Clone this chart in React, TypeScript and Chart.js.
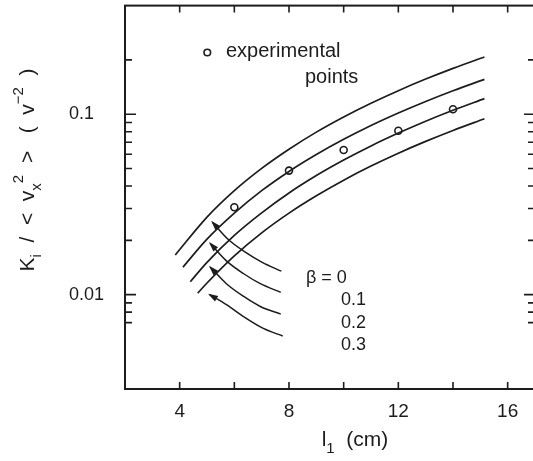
import React, { useEffect, useRef } from 'react';
import { Chart, registerables } from 'chart.js';

Chart.register(...registerables);

const FONT = '"Liberation Sans", Arial, "DejaVu Sans", sans-serif';
const INK = '#1c1c1c';

// ---- axis ticks ----
const xTickValues = [4, 8, 12, 16];
const xMinorTickValues = [4, 6, 8, 10, 12, 14, 16];
const yLabelValues = [0.1, 0.01];
const yMinorTickValues = [0.2, 0.09, 0.08, 0.07, 0.06, 0.05, 0.04, 0.03, 0.02, 0.009, 0.008, 0.007];

// ---- theory curves (beta = 0, 0.1, 0.2, 0.3), top to bottom ----
const betaLabels = ['\u03B2 = 0', '0.1', '0.2', '0.3'];
const curve0X = [3.84, 5, 6, 7, 8, 9, 10, 11, 12, 13, 14, 15.15];
const curve0Y = [0.0166, 0.0269, 0.0377, 0.0501, 0.064, 0.0796, 0.0966, 0.1151, 0.1351, 0.1566, 0.1796, 0.2077];
const curve1X = [4.12, 5, 6, 7, 8, 9, 10, 11, 12, 13, 14, 15.15];
const curve1Y = [0.0142, 0.0203, 0.0283, 0.0377, 0.0482, 0.0598, 0.0726, 0.0866, 0.1016, 0.1177, 0.135, 0.1561];
const curve2X = [4.39, 5, 6, 7, 8, 9, 10, 11, 12, 13, 14, 15.15];
const curve2Y = [0.0118, 0.0151, 0.0213, 0.0284, 0.0366, 0.0457, 0.0557, 0.0667, 0.0786, 0.0915, 0.1052, 0.1221];
const curve3X = [4.66, 5, 6, 7, 8, 9, 10, 11, 12, 13, 14, 15.15];
const curve3Y = [0.0102, 0.0116, 0.0164, 0.022, 0.0283, 0.0353, 0.0431, 0.0516, 0.0608, 0.0707, 0.0813, 0.0944];

// ---- experimental points ----
const expX = [6, 8, 10, 12, 14];
const expY = [0.0305, 0.0487, 0.0633, 0.081, 0.1066];

// ---- label arrows (tip first) ----
const arrow0X = [5.2, 5.78, 6.4, 7.02, 7.72];
const arrow0Y = [0.0252, 0.0202, 0.0172, 0.0151, 0.0135];
const arrow1X = [5.12, 5.71, 6.33, 6.95, 7.7];
const arrow1Y = [0.0192, 0.0154, 0.0131, 0.0115, 0.0103];
const arrow2X = [5.12, 5.71, 6.33, 6.95, 7.7];
const arrow2Y = [0.0142, 0.0115, 0.0098, 0.0086, 0.0078];
const arrow3X = [5.1, 5.71, 6.37, 7.06, 7.77];
const arrow3Y = [0.01, 0.0088, 0.0075, 0.0065, 0.0059];

// ---- layout of annotations (pixels) ----
const betaLabelPos = [
  [306, 283],
  [341, 305],
  [341, 328],
  [341, 350],
];

type Seg = { t: string; k?: 'sub' | 'sup' | 'stack' };

function drawRich(ctx: CanvasRenderingContext2D, segs: Seg[], cx: number, baseline: number, size: number) {
  const fontN = `${size}px ${FONT}`;
  const fontS = `${Math.round(size * 0.72)}px ${FONT}`;
  const widths = segs.map((s) => {
    ctx.font = s.k ? fontS : fontN;
    return ctx.measureText(s.t).width;
  });
  let total = 0;
  segs.forEach((s, i) => {
    if (s.k === 'stack') total += Math.max(0, widths[i] - widths[i - 1]);
    else total += widths[i];
  });
  let xPos = cx - total / 2;
  ctx.textAlign = 'left';
  ctx.textBaseline = 'alphabetic';
  segs.forEach((s, i) => {
    ctx.font = s.k ? fontS : fontN;
    if (s.k === 'stack') {
      const x0 = xPos - widths[i - 1];
      ctx.fillText(s.t, x0, baseline - size * 0.55);
      xPos = x0 + Math.max(widths[i - 1], widths[i]);
      return;
    }
    let dy = 0;
    if (s.k === 'sub') dy = size * 0.32;
    if (s.k === 'sup') dy = -size * 0.52;
    ctx.fillText(s.t, xPos, baseline + dy);
    xPos += widths[i];
  });
}

const pts = (xs: number[], ys: number[]) => xs.map((x, i) => ({ x, y: ys[i] }));

const decorPlugin = {
  id: 'decor',
  afterDatasetsDraw(chart: any) {
    const { ctx, chartArea: ca, scales } = chart;
    const xs = scales.x;
    const ys = scales.y;
    ctx.save();
    ctx.strokeStyle = INK;
    ctx.fillStyle = INK;
    // frame
    ctx.lineWidth = 2;
    ctx.strokeRect(ca.left, ca.top, ca.right - ca.left, ca.bottom - ca.top);
    // inward ticks
    ctx.lineWidth = 1.6;
    ctx.beginPath();
    xMinorTickValues.forEach((v) => {
      const p = xs.getPixelForValue(v);
      ctx.moveTo(p, ca.bottom);
      ctx.lineTo(p, ca.bottom - 7);
      ctx.moveTo(p, ca.top);
      ctx.lineTo(p, ca.top + 7);
    });
    yLabelValues.forEach((v) => {
      const p = ys.getPixelForValue(v);
      ctx.moveTo(ca.left, p);
      ctx.lineTo(ca.left + 11, p);
      ctx.moveTo(ca.right, p);
      ctx.lineTo(ca.right - 11, p);
    });
    yMinorTickValues.forEach((v) => {
      const p = ys.getPixelForValue(v);
      ctx.moveTo(ca.left, p);
      ctx.lineTo(ca.left + 7, p);
      ctx.moveTo(ca.right, p);
      ctx.lineTo(ca.right - 7, p);
    });
    ctx.stroke();
    // arrowheads on the label arrows
    chart.data.datasets.forEach((ds: any, i: number) => {
      if (!ds.isArrow) return;
      const el = chart.getDatasetMeta(i).data;
      const p0 = el[0];
      const p1 = el[1];
      const ang = Math.atan2(p0.y - p1.y, p0.x - p1.x);
      const L = 8;
      const W = 3.2;
      ctx.beginPath();
      ctx.moveTo(p0.x + Math.cos(ang) * 2, p0.y + Math.sin(ang) * 2);
      ctx.lineTo(p0.x - Math.cos(ang) * L + Math.sin(ang) * W, p0.y - Math.sin(ang) * L - Math.cos(ang) * W);
      ctx.lineTo(p0.x - Math.cos(ang) * L - Math.sin(ang) * W, p0.y - Math.sin(ang) * L + Math.cos(ang) * W);
      ctx.closePath();
      ctx.fill();
    });
    // legend text
    ctx.lineWidth = 1.6;
    ctx.beginPath();
    ctx.arc(207.3, 52.5, 3.3, 0, Math.PI * 2);
    ctx.stroke();
    ctx.textAlign = 'left';
    ctx.textBaseline = 'alphabetic';
    ctx.font = `20px ${FONT}`;
    ctx.fillText('experimental', 226, 57);
    ctx.fillText('points', 305, 83);
    // beta labels
    ctx.font = `18px ${FONT}`;
    betaLabels.forEach((t, i) => {
      ctx.fillText(t, betaLabelPos[i][0], betaLabelPos[i][1]);
    });
    // x title
    drawRich(ctx, [{ t: 'l' }, { t: '1', k: 'sub' }, { t: '  (cm)' }], 355, 446, 21);
    // y title (rotated)
    ctx.save();
    ctx.translate(34, 170);
    ctx.rotate(-Math.PI / 2);
    drawRich(
      ctx,
      [
        { t: 'K' },
        { t: 'i', k: 'sub' },
        { t: '  /  <  v' },
        { t: 'x', k: 'sub' },
        { t: '2', k: 'sup' },
        { t: '  >   (  v' },
        { t: '\u22122', k: 'sup' },
        { t: '  )' },
      ],
      0,
      0,
      21
    );
    ctx.restore();
    ctx.restore();
  },
};

export default function App() {
  const ref = useRef<HTMLCanvasElement>(null);
  useEffect(() => {
    const canvas = ref.current;
    if (!canvas) return;
    const curve = (label: string, xs: number[], ys: number[]) => ({
      type: 'line' as const,
      label,
      data: pts(xs, ys),
      borderColor: INK,
      borderWidth: 1.7,
      pointRadius: 0,
      cubicInterpolationMode: 'monotone' as const,
      fill: false,
    });
    const arrow = (label: string, xs: number[], ys: number[]) => ({
      ...curve(label, xs, ys),
      borderWidth: 1.5,
      isArrow: true,
    });
    const chart = new Chart(canvas, {
      type: 'line',
      data: {
        datasets: [
          curve('\u03B2 = 0', curve0X, curve0Y),
          curve('\u03B2 = 0.1', curve1X, curve1Y),
          curve('\u03B2 = 0.2', curve2X, curve2Y),
          curve('\u03B2 = 0.3', curve3X, curve3Y),
          arrow('arrow 0', arrow0X, arrow0Y),
          arrow('arrow 0.1', arrow1X, arrow1Y),
          arrow('arrow 0.2', arrow2X, arrow2Y),
          arrow('arrow 0.3', arrow3X, arrow3Y),
          {
            type: 'scatter',
            label: 'experimental points',
            data: pts(expX, expY),
            pointRadius: 3.5,
            pointBorderWidth: 1.6,
            borderColor: INK,
            backgroundColor: '#ffffff',
            showLine: false,
          } as any,
        ] as any,
      },
      options: {
        responsive: false,
        animation: false,
        events: [],
        layout: { padding: { left: 69, top: 4, right: 10, bottom: 0 } },
        plugins: { legend: { display: false }, tooltip: { enabled: false } },
        scales: {
          x: {
            type: 'linear',
            min: 2,
            max: 17,
            grid: { display: false, drawTicks: false },
            border: { display: false },
            afterBuildTicks: (s: any) => {
              s.ticks = xTickValues.map((v) => ({ value: v }));
            },
            afterFit: (s: any) => {
              s.height = 72;
              s.paddingLeft = 0;
              s.paddingRight = 0;
            },
            ticks: {
              padding: 11,
              color: INK,
              font: { family: FONT, size: 19 },
              maxRotation: 0,
              autoSkip: false,
              callback: (v: any) => String(v),
            },
          },
          y: {
            type: 'logarithmic',
            min: 0.003,
            max: 0.4,
            grid: { display: false, drawTicks: false },
            border: { display: false },
            afterBuildTicks: (s: any) => {
              s.ticks = yLabelValues.map((v) => ({ value: v }));
            },
            afterFit: (s: any) => {
              s.width = 56;
              s.paddingTop = 0;
              s.paddingBottom = 0;
            },
            ticks: {
              crossAlign: 'far',
              color: INK,
              font: { family: FONT, size: 18 },
              autoSkip: false,
              callback: (v: any) => String(v),
            },
          },
        },
      } as any,
      plugins: [decorPlugin],
    });
    return () => chart.destroy();
  }, []);
  return (
    <div
      style={{
        position: 'fixed',
        left: 0,
        top: 0,
        width: 533,
        height: 461,
        overflow: 'hidden',
        background: '#ffffff',
      }}
    >
      <canvas ref={ref} width={545} height={461} style={{ display: 'block', width: 545, height: 461 }} />
    </div>
  );
}
